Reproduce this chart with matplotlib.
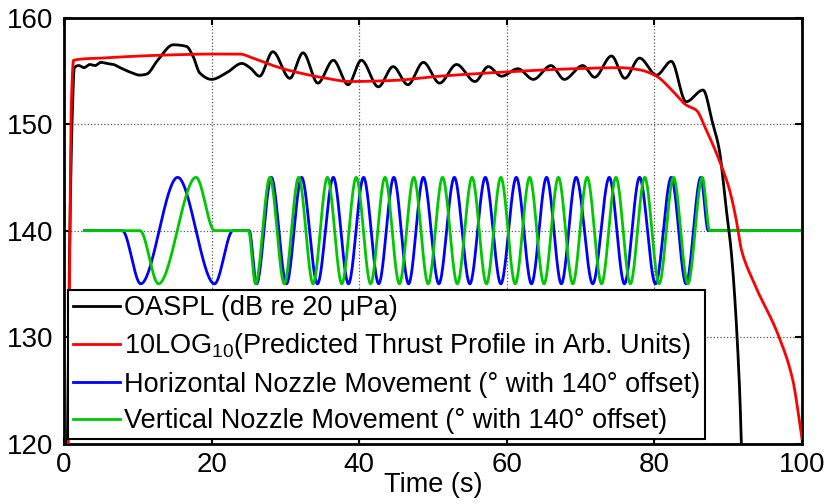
import numpy as np
import matplotlib
matplotlib.use("Agg")
import matplotlib.pyplot as plt

plt.rcParams['font.family'] = ['Liberation Sans', 'DejaVu Sans']
plt.rcParams['mathtext.fontset'] = 'custom'
plt.rcParams['mathtext.rm'] = 'Liberation Sans'
plt.rcParams['mathtext.it'] = 'Liberation Sans'

# OASPL (black): time (s), level (dB)
oaspl_t = [0.3, 0.8, 1.1, 1.4, 2.0, 2.7, 3.5, 4.2, 5.0, 5.8, 6.7, 7.6, 8.9, 10.3, 11.2,
           12.7, 14.8, 16.6, 17.5, 18.4, 20.0, 22.0, 24.1, 25.2, 26.5, 28.3, 30.6, 32.4,
           34.4, 36.5, 38.5, 40.3, 42.6, 44.6, 46.6, 48.7, 50.9, 53.2, 55.7, 57.5, 59.3,
           61.5, 63.6, 66.0, 67.8, 70.3, 71.9, 74.2, 76.0, 78.0, 80.3, 82.3, 84.3, 86.6,
           87.9, 88.8, 89.7, 90.4, 91.5, 92.2]
oaspl_v = [110, 140, 150.4, 155.3, 155.5, 155.3, 155.6, 155.5, 155.8, 155.7, 155.6, 155.3,
           154.9, 154.6, 154.7, 156.0, 157.45, 157.3, 156.35, 154.8, 154.2, 154.8, 155.7,
           155.3, 154.5, 156.8, 154.3, 156.7, 153.85, 156.0, 153.7, 156.0, 153.5, 155.4,
           153.7, 155.8, 153.85, 155.6, 154.0, 155.4, 154.5, 155.2, 154.2, 155.5, 154.2,
           155.5, 154.4, 156.4, 154.3, 156.2, 154.6, 155.9, 152.1, 153.2, 150.1, 147.6,
           142.3, 138.2, 126.0, 110]

# predicted thrust profile (red)
thrust_t = [0.4, 0.8, 1.0, 1.3, 5.0, 14.35, 20.0, 23.8, 25.6, 28.3, 31.05, 35.6, 38.7,
            44.6, 50.9, 59.9, 69.0, 75.3, 78.0, 80.3, 82.5, 84.3, 85.7, 87.0, 88.8, 90.2,
            91.1, 91.8, 93.3, 96.9, 98.75, 100.0]
thrust_v = [100, 140, 152, 156.0, 156.2, 156.5, 156.58, 156.58, 156.2, 155.5, 154.95, 154.3,
            154.0, 154.1, 154.5, 154.9, 155.2, 155.3, 155.1, 154.5, 153.1, 151.8, 151.3,
            149.5, 146.6, 143.8, 141.0, 138.2, 135.4, 130.0, 126.0, 120.5]

# horizontal nozzle (blue): turning points
horiz_t = [2.75, 7.9, 10.4, 15.4, 20.4, 22.9, 25.1, 26.1,
           28.1, 30.15, 32.2, 34.35, 36.5, 38.55, 40.6, 42.65, 44.7, 46.7, 48.7, 50.8,
           52.9, 55.0, 57.1, 59.2, 61.3, 63.35, 65.4, 67.4, 69.4, 71.65, 73.9, 75.95,
           78.0, 80.15, 82.3, 84.3, 86.3, 87.3, 100.0]
horiz_v = [140, 140, 135, 145, 135, 140, 140, 135,
           145, 135, 145, 135, 145, 135, 145, 135, 145, 135, 145, 135,
           145, 135, 145, 135, 145, 135, 145, 135, 145, 135, 145, 135,
           145, 135, 145, 135, 145, 140, 140]

# vertical nozzle (green): turning points
vert_t = [2.75, 10.3, 12.8, 17.9, 20.4, 25.0, 25.95,
          27.9, 29.85, 31.8, 33.75, 35.7, 37.65, 39.6, 41.55, 43.5, 45.45, 47.4, 49.35,
          51.3, 53.3, 55.3, 57.25, 59.2, 61.15, 63.1, 65.05, 67.0, 68.95, 70.9, 72.85,
          74.8, 76.75, 78.7, 80.65, 82.6, 84.55, 86.5, 87.5, 100.0]
vert_v = [140, 140, 135, 145, 140, 140, 135,
          145, 135, 145, 135, 145, 135, 145, 135, 145, 135, 145, 135,
          145, 135, 145, 135, 145, 135, 145, 135, 145, 135, 145, 135,
          145, 135, 145, 135, 145, 135, 145, 140, 140]

labels = ["OASPL (dB re 20 \u03bcPa)",
          "10LOG$_{10}$(Predicted Thrust Profile in Arb. Units)",
          "Horizontal Nozzle Movement (\u00b0 with 140\u00b0 offset)",
          "Vertical Nozzle Movement (\u00b0 with 140\u00b0 offset)"]


def smooth(x, y, n=40):
    # monotone cubic through the read points, so peaks stay where they were read
    x = np.asarray(x, float)
    y = np.asarray(y, float)
    h = np.diff(x)
    d = np.diff(y) / h
    m = np.zeros_like(y)
    m[0], m[-1] = d[0], d[-1]
    for k in range(1, len(x) - 1):
        if d[k - 1] * d[k] > 0:
            w1 = 2 * h[k] + h[k - 1]
            w2 = h[k] + 2 * h[k - 1]
            m[k] = (w1 + w2) / (w1 / d[k - 1] + w2 / d[k])
    xs, ys = [], []
    for k in range(len(x) - 1):
        s = np.linspace(0, 1, n, endpoint=False)
        h00 = 2 * s**3 - 3 * s**2 + 1
        h10 = s**3 - 2 * s**2 + s
        h01 = -2 * s**3 + 3 * s**2
        h11 = s**3 - s**2
        xs.append(x[k] + s * h[k])
        ys.append(h00 * y[k] + h10 * h[k] * m[k] + h01 * y[k + 1] + h11 * h[k] * m[k + 1])
    xs.append([x[-1]])
    ys.append([y[-1]])
    return np.concatenate(xs), np.concatenate(ys)


fig = plt.figure(figsize=(8.31, 5.04), dpi=100)
ax = fig.add_axes([0.077, 0.12, 0.888, 0.845])

lw = 2.0
ax.plot(*smooth(horiz_t, horiz_v), color='#0000ff', lw=lw, label=labels[2], zorder=2)
ax.plot(*smooth(vert_t, vert_v), color='#00c800', lw=lw, label=labels[3], zorder=2.1)
ax.plot(*smooth(oaspl_t, oaspl_v), color='black', lw=lw, label=labels[0], zorder=3)
ax.plot(*smooth(thrust_t, thrust_v), color='#ff0000', lw=lw, label=labels[1], zorder=3.1)

ax.set_xlim(0, 100)
ax.set_ylim(120, 160)
ax.set_xticks(np.arange(0, 101, 20))
ax.set_yticks(np.arange(120, 161, 10))
ax.grid(True, linestyle=':', color='#555555', linewidth=0.9)
ax.tick_params(direction='in', length=5, width=1.5, top=True, right=True, labelsize=20)
ax.tick_params(axis='x', pad=6)
ax.tick_params(axis='y', pad=8)
for sp in ax.spines.values():
    sp.set_linewidth(2)
ax.set_xlabel("Time (s)", fontsize=19.5, labelpad=-4)

h, l = ax.get_legend_handles_labels()
order = [2, 3, 0, 1]
leg = ax.legend([h[i] for i in order], [l[i] for i in order], loc='lower left',
                bbox_to_anchor=(0.0, 0.0), borderaxespad=0.15, fontsize=19.5,
                fancybox=False, framealpha=1, edgecolor='black', handlelength=1.7,
                handletextpad=0.15, borderpad=0.2, labelspacing=0.38)
leg.get_frame().set_linewidth(1.5)

fig.savefig("out.png", dpi=100)
